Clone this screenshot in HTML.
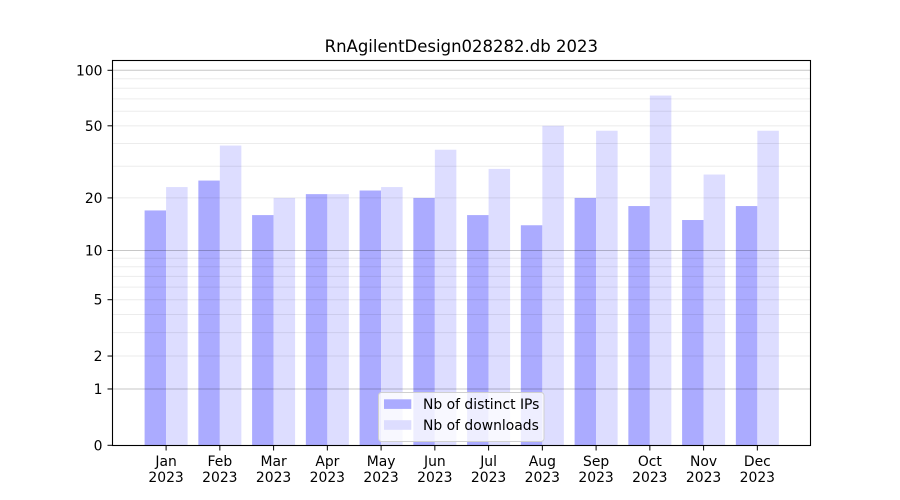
<!DOCTYPE html>
<html><head><meta charset="utf-8"><style>
html,body{margin:0;padding:0;background:#fff;}
svg{display:block;font-family:"DejaVu Sans","Liberation Sans",sans-serif;}
</style></head><body>
<svg width="900" height="500" viewBox="0 0 900 500" xmlns="http://www.w3.org/2000/svg">
<rect width="900" height="500" fill="#fff"/>
<text x="461.3" y="52" font-size="16.5" text-anchor="middle" fill="#000">RnAgilentDesign028282.db 2023</text>
<!-- bars -->
<g id="bars"></g>
<g id="grid"></g>
<g id="legend">
<rect x="378.5" y="392.5" width="165.5" height="49" rx="3" ry="3" fill="rgba(255,255,255,0.8)" stroke="#d0d0d0" stroke-width="1"/>
<rect x="384" y="399.3" width="27.3" height="9.6" fill="#ababff"/>
<rect x="384" y="420.2" width="27.3" height="9.6" fill="#ddddff"/>
<text x="423" y="409" font-size="13.9" fill="#000">Nb of distinct IPs</text>
<text x="423" y="430" font-size="13.9" fill="#000">Nb of downloads</text>
</g>
<rect x="112.5" y="60.5" width="698" height="385" fill="none" stroke="#000" stroke-width="1.1"/>
<g id="ticks"></g>
<script>
(function(){
var NS="http://www.w3.org/2000/svg";
function el(p,t,a,txt){var e=document.createElementNS(NS,t);for(var k in a)e.setAttribute(k,a[k]);if(txt!==undefined)e.textContent=txt;p.appendChild(e);return e;}
function Y(v){return 445.3-187.1*Math.log10(1+v);}
var ip=[17,25,16,21,22,20,16,14,20,18,15,18];
var dl=[23,39,20,21,23,37,29,50,47,73,27,47];
var m=["Jan","Feb","Mar","Apr","May","Jun","Jul","Aug","Sep","Oct","Nov","Dec"];
var bars=document.getElementById("bars"),grid=document.getElementById("grid"),ticks=document.getElementById("ticks");
var w=21.5;
for(var i=0;i<12;i++){
 var x=166.1+53.75*i;
 el(bars,"rect",{x:(x-w).toFixed(2),y:Y(ip[i]).toFixed(2),width:w,height:(445.3-Y(ip[i])).toFixed(2),fill:"#ababff"});
 el(bars,"rect",{x:x.toFixed(2),y:Y(dl[i]).toFixed(2),width:w,height:(445.3-Y(dl[i])).toFixed(2),fill:"#ddddff"});
 el(ticks,"line",{x1:x,x2:x,y1:445.5,y2:450.5,stroke:"#000","stroke-width":1});
 el(ticks,"text",{x:x,y:466,"font-size":"13.9","text-anchor":"middle",fill:"#000"},m[i]);
 el(ticks,"text",{x:x,y:482,"font-size":"13.9","text-anchor":"middle",fill:"#000"},"2023");
}
var minor=[3,4,6,7,8,9,30,40,60,70,80,90];
minor.forEach(function(v){var y=Y(v);el(grid,"line",{x1:113,x2:810,y1:y,y2:y,stroke:"rgba(0,0,0,0.075)","stroke-width":1});});
[2,5,20,50].forEach(function(v){var y=Y(v);el(grid,"line",{x1:113,x2:810,y1:y,y2:y,stroke:"rgba(0,0,0,0.08)","stroke-width":1});});
[1,10,100].forEach(function(v){var y=Y(v);el(grid,"line",{x1:113,x2:810,y1:y,y2:y,stroke:"rgba(0,0,0,0.22)","stroke-width":1});});
[0,1,2,5,10,20,50,100].forEach(function(v){var y=Y(v);
 el(ticks,"line",{x1:107.5,x2:112.5,y1:y,y2:y,stroke:"#000","stroke-width":1});
 el(ticks,"text",{x:102.5,y:y+5,"font-size":"13.9","text-anchor":"end",fill:"#000"},String(v));
});
})();
</script>
</svg>
</body></html>
